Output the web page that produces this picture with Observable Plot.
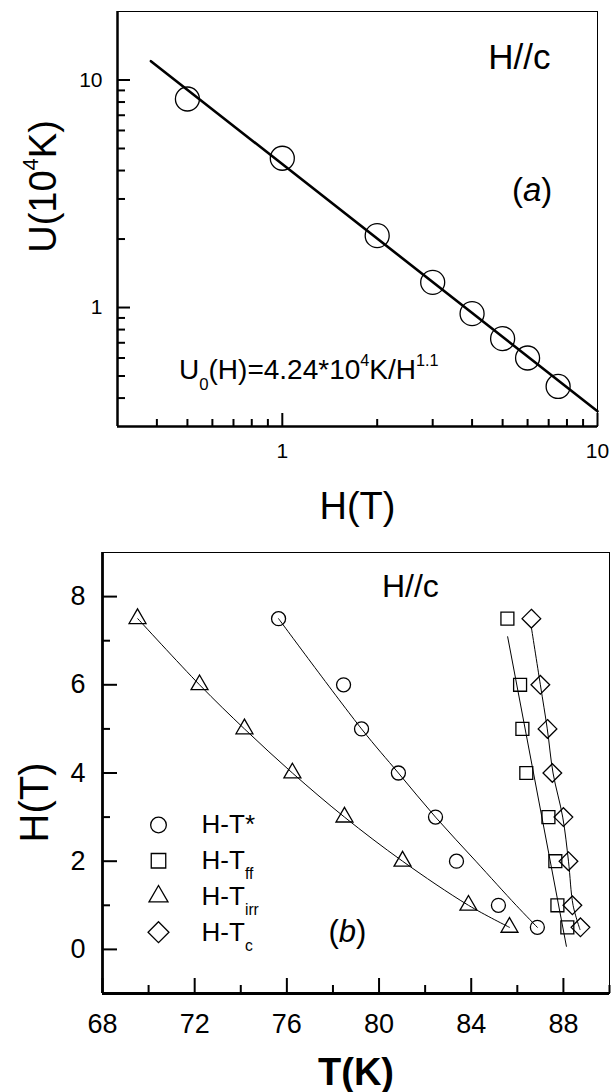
<!DOCTYPE html>
<html><head><meta charset="utf-8">
<script src="https://cdn.jsdelivr.net/npm/d3@7"></script>
<script src="https://cdn.jsdelivr.net/npm/@observablehq/plot@0.6"></script>
<style>
html,body{margin:0;padding:0;background:#fff;}
#chart{width:612px;height:1092px;overflow:hidden;background:#fff;}
#chart svg{display:block;}
</style></head><body><div id="chart"></div>
<script>
const FONT = "'Liberation Sans', Arial, Helvetica, sans-serif";

// ---------- Panel (a) data ----------
const fieldA = [0.5, 1, 2, 3, 4, 5, 6, 7.5];                        // H (T)
const energyA = [8.25, 4.53, 2.07, 1.29, 0.94, 0.73, 0.60, 0.45];   // U (10^4 K)
const fitFieldA = [0.383, 10];
const fitEnergyA = [12.1, 0.35];
const majorTicksA = [1, 10];
const minorTicksA = [0.4, 0.5, 0.6, 0.7, 0.8, 0.9, 2, 3, 4, 5, 6, 7, 8, 9];

// ---------- Panel (b) data ----------
const fieldB = [7.5, 6, 5, 4, 3, 2, 1, 0.5];
const tStar = [75.64, 78.46, 79.24, 80.84, 82.45, 83.36, 85.18, 86.87];
const tFf   = [85.57, 86.12, 86.22, 86.39, 87.35, 87.65, 87.74, 88.17];
const tIrr  = [69.52, 72.21, 74.16, 76.24, 78.50, 81.02, 83.88, 85.66];
const tC    = [86.61, 87.00, 87.31, 87.52, 88.00, 88.22, 88.39, 88.74];
const fitStarT = [75.64, 79.24, 80.84, 82.45, 84.2, 85.95, 86.87];
const fitStarH = [7.5, 5, 4, 3, 2, 1, 0.5];
const fitFfT = [85.58, 88.13];
const fitFfH = [7.09, 0.07];
const fitIrrT = [69.53, 72.21, 74.16, 76.24, 78.5, 81.02, 83.88, 85.66];
const fitIrrH = [7.5, 6, 5, 4, 3, 2, 1, 0.5];
const fitCT = [86.61, 87.0, 87.3, 87.55, 87.97, 88.22, 88.42, 88.72];
const fitCH = [7.3, 6, 5, 4, 3, 2, 1, 0.45];
const seriesLabels = ["H-T*", "H-T_{ff}", "H-T_{irr}", "H-T_{c}"];
const majorTicksBx = [68, 72, 76, 80, 84, 88];
const minorTicksBx = [70, 74, 78, 82, 86, 90];
const majorTicksBy = [0, 2, 4, 6, 8];
const minorTicksBy = [1, 3, 5, 7];

const pts = (xs, ys) => xs.map((x, i) => ({x, y: ys[i]}));

// ---------- Panel (a) ----------
const plotA = Plot.plot({
  width: 612, height: 530,
  marginLeft: 117, marginRight: 15, marginTop: 11, marginBottom: 104,
  style: {fontFamily: FONT, color: "black", background: "white"},
  x: {type: "log", domain: [0.3, 10]},
  y: {type: "log", domain: [0.3, 20]},
  marks: [
    Plot.frame({stroke: "black", strokeWidth: 1}),
    Plot.ruleX([0.3], {stroke: "black", strokeWidth: 2.5}),
    Plot.ruleY([0.3], {stroke: "black", strokeWidth: 2.5}),
    Plot.axisX(majorTicksA, {tickSize: 13, dy: -13, fill: "none", strokeWidth: 2}),
    Plot.axisX(minorTicksA, {tickSize: 7, dy: -7, fill: "none", strokeWidth: 2}),
    Plot.axisY(majorTicksA, {tickSize: 13, dx: 13, fill: "none", strokeWidth: 2}),
    Plot.axisY(minorTicksA, {tickSize: 8, dx: 8, fill: "none", strokeWidth: 2}),
    Plot.axisX(majorTicksA, {tickSize: 0, tickPadding: 17, label: null, fontSize: 21, tickFormat: d => `${d}`}),
    Plot.axisY(majorTicksA, {tickSize: 0, tickPadding: 15, label: null, fontSize: 21, tickFormat: d => `${d}`}),
    Plot.line(pts(fitFieldA, fitEnergyA), {x: "x", y: "y", stroke: "black", strokeWidth: 2.6}),
    Plot.dot(pts(fieldA, energyA), {x: "x", y: "y", r: 12, stroke: "black", strokeWidth: 1.3, fill: "none"}),
    Plot.text(["H//c"], {x: [5.65], y: [12.5], fontSize: 35, textAnchor: "middle", lineAnchor: "middle"}),
    Plot.text(["(~{a})"], {x: [6.2], y: [3.28], fontSize: 33, textAnchor: "middle", lineAnchor: "middle"}),
    Plot.text(["U_{0}(H)=4.24*10^{4}K/H^{1.1}"], {x: [0.47], y: [0.486], fontSize: 28, textAnchor: "start", lineAnchor: "bottom"}),
    Plot.text(["U(10^{4}K)"], {frameAnchor: "left", dx: -62, dy: -32.5, rotate: -90, fontSize: 38, textAnchor: "middle", lineAnchor: "bottom"}),
    Plot.text(["H(T)"], {frameAnchor: "bottom", dy: 92, fontSize: 38, textAnchor: "middle", lineAnchor: "bottom"})
  ]
});

// ---------- Panel (b) ----------
const series = [
  {label: seriesLabels[0], T: tStar, fitT: fitStarT, fitH: fitStarH, symbol: "circle", r: 7},
  {label: seriesLabels[1], T: tFf, fitT: fitFfT, fitH: fitFfH, symbol: "square", r: 7.3},
  {label: seriesLabels[2], T: tIrr, fitT: fitIrrT, fitH: fitIrrH, symbol: "triangle", r: 6.3},
  {label: seriesLabels[3], T: tC, fitT: fitCT, fitH: fitCH, symbol: "diamond2", r: 8.4}
];
const legendT = 70.43, legendTextT = 72.3, legendH0 = 2.82, legendStep = 0.81;

const marksB = [
  Plot.frame({stroke: "black", strokeWidth: 1}),
  Plot.ruleX([68], {stroke: "black", strokeWidth: 2.8}),
  Plot.ruleY([-1], {stroke: "black", strokeWidth: 2.8}),
  Plot.axisX(majorTicksBx, {tickSize: 15, dy: -15, fill: "none", strokeWidth: 2}),
  Plot.axisX(minorTicksBx, {tickSize: 8, dy: -8, fill: "none", strokeWidth: 2}),
  Plot.axisY(majorTicksBy, {tickSize: 15, dx: 15, fill: "none", strokeWidth: 2}),
  Plot.axisY(minorTicksBy, {tickSize: 8, dx: 8, fill: "none", strokeWidth: 2}),
  Plot.axisX(majorTicksBx, {tickSize: 0, tickPadding: 20, label: null, fontSize: 27, tickFormat: d => `${d}`}),
  Plot.axisY(majorTicksBy, {tickSize: 0, tickPadding: 17, label: null, fontSize: 27, tickFormat: d => `${d}`})
];
series.forEach((s, i) => {
  marksB.push(Plot.line(pts(s.fitT, s.fitH), {x: "x", y: "y", stroke: "black", strokeWidth: 1, curve: "catmull-rom"}));
  marksB.push(Plot.dot(pts(s.T, fieldB), {x: "x", y: "y", symbol: s.symbol, r: s.r, stroke: "black", strokeWidth: 1.3, fill: "none"}));
  marksB.push(Plot.dot([s.label], {x: [legendT], y: [legendH0 - i * legendStep], symbol: s.symbol, r: s.r * 1.12, stroke: "black", strokeWidth: 1.3, fill: "none"}));
  marksB.push(Plot.text([s.label], {x: [legendTextT], y: [legendH0 - i * legendStep], fontSize: 26, textAnchor: "start", lineAnchor: "middle"}));
});
marksB.push(
  Plot.text(["H//c"], {x: [81.36], y: [8.23], fontSize: 32, textAnchor: "middle", lineAnchor: "middle"}),
  Plot.text(["(~{b})"], {x: [78.63], y: [0.4], fontSize: 31, textAnchor: "middle", lineAnchor: "middle"}),
  Plot.text(["H(T)"], {frameAnchor: "left", dx: -55, dy: 29.5, rotate: -90, fontSize: 40, textAnchor: "middle", lineAnchor: "bottom"}),
  Plot.text(["T(K)"], {frameAnchor: "bottom", dy: 91, fontSize: 38, fontWeight: "bold", textAnchor: "middle", lineAnchor: "bottom"})
);

const plotB = Plot.plot({
  width: 612, height: 562,
  marginLeft: 102, marginRight: 3, marginTop: 22, marginBottom: 99,
  style: {fontFamily: FONT, color: "black", background: "white"},
  x: {domain: [68, 90]},
  y: {domain: [-1, 9]},
  marks: marksB
});

const root = document.getElementById("chart");
root.appendChild(plotA);
root.appendChild(plotB);

// rich text: _{sub}, ^{sup}, ~{italic}
function richify(svg) {
  svg.querySelectorAll("text").forEach(t => {
    const s = t.textContent;
    if (!/[_^~]\{/.test(s)) return;
    const fs = parseFloat(getComputedStyle(t).fontSize) || 16;
    const parts = [];
    const re = /([_^~])\{([^}]*)\}/g;
    let last = 0, m;
    while ((m = re.exec(s))) {
      if (m.index > last) parts.push({k: "", s: s.slice(last, m.index)});
      parts.push({k: m[1], s: m[2]});
      last = re.lastIndex;
    }
    if (last < s.length) parts.push({k: "", s: s.slice(last)});
    while (t.firstChild) t.removeChild(t.firstChild);
    let cur = 0;
    for (const p of parts) {
      const ts = document.createElementNS("http://www.w3.org/2000/svg", "tspan");
      let target = 0;
      if (p.k === "^") { target = -0.47 * fs; ts.setAttribute("font-size", 0.58 * fs); }
      else if (p.k === "_") { target = 0.4 * fs; ts.setAttribute("font-size", 0.6 * fs); }
      else if (p.k === "~") { ts.setAttribute("font-style", "italic"); }
      const dy = target - cur;
      if (dy) ts.setAttribute("dy", dy);
      cur = target;
      ts.textContent = p.s;
      t.appendChild(ts);
    }
  });
}
richify(plotA);
richify(plotB);
</script>
</body></html>
